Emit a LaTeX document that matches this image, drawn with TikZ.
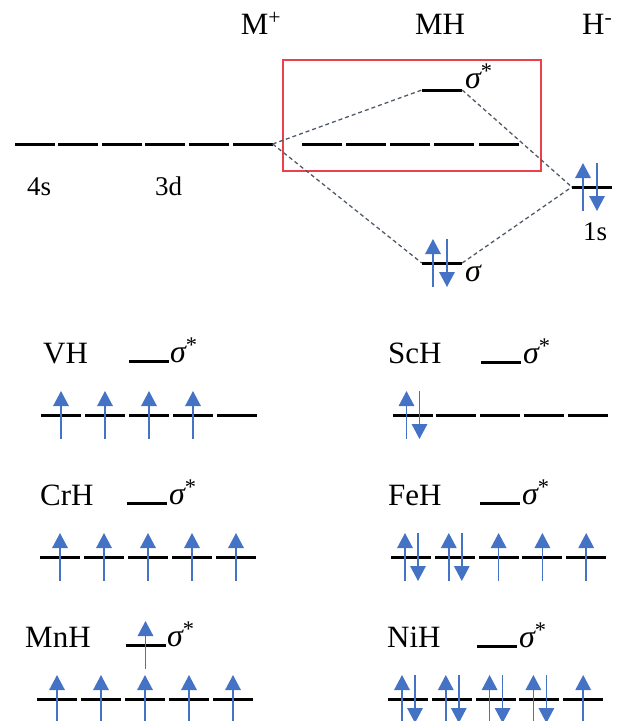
\documentclass[tikz,border=0pt]{standalone}
\usepackage{fontspec}
\setmainfont{Liberation Serif}
\usetikzlibrary{arrows.meta, calc, positioning}
\definecolor{SpinBlue}{RGB}{68,114,196}
\definecolor{BoxRed}{RGB}{235,64,75}
\definecolor{LinkGray}{RGB}{80,90,105}

\begin{document}
\begin{tikzpicture}[x=1pt, y=-1pt,
	lvl/.style={fill=black, inner sep=0pt, minimum width=40pt, minimum height=3pt},
	spin/.style={draw=SpinBlue, line width=1.5pt, -{Triangle[length=15pt, width=15.5pt]}},
	corr/.style={draw=LinkGray, line width=1.3pt, dash pattern=on 4pt off 3pt},
	mol/.style={font=\fontsize{31}{36}\selectfont, anchor=base west, inner sep=0pt},
	orb/.style={font=\fontsize{27}{30}\selectfont, anchor=base west, inner sep=0pt},
	sig/.style={font=\fontsize{32}{36}\selectfont\itshape, anchor=base west, inner sep=0pt}]
	\useasboundingbox (0,0) rectangle (618,721);
	% top diagram
	\node[mol, anchor=base] (mp) at (261,34) {M\textsuperscript{+}};
	\node[mol, anchor=base] (mh) at (440,34) {MH};
	\node[mol] (hm) at (582,34) {H\textsuperscript{-}};
	\draw[BoxRed, line width=2pt] (283,60) rectangle (541,171);
	\foreach \i in {0,...,5}
		\node[lvl] (m\i) at ({34.5+\i*43.6},144) {};
	\foreach \i in {0,...,4}
		\node[lvl] (d\i) at ({321.5+\i*44.3},144) {};
	\node[lvl] (ss) at (442,90) {};
	\node[lvl] (sb) at (442,263) {};
	\node[lvl] (hs) at (592,187) {};
	\node[sig] (ssl) at (465,88) {σ\textsuperscript{\upshape *}};
	\node[sig] (sbl) at (465,281) {σ};
	\node[orb] (l4s) at (27,195) {4s};
	\node[orb] (l3d) at (155,195) {3d};
	\node[orb] (l1s) at (583,240) {1s};
	\draw[corr] (m5.east) -- (ss.west);
	\draw[corr] (m5.east) -- (sb.west);
	\draw[corr] (ss.east) -- (hs.west);
	\draw[corr] (sb.east) -- (hs.west);
	\draw[spin] ($(sb)+(-9,24)$) -- ++(0,-48);
	\draw[spin] ($(sb)+(5,-24)$) -- ++(0,48);
	\draw[spin] ($(hs)+(-9,24)$) -- ++(0,-48);
	\draw[spin] ($(hs)+(5,-24)$) -- ++(0,48);
	% VH
	\node[mol] (vh) at (43,363) {VH};
	\node[lvl] (vhs) at (148.5,361) {};
	\node[sig] (vhl) at (170,362) {σ\textsuperscript{\upshape *}};
	\foreach \i in {0,...,4}
		\node[lvl] (v\i) at ({61+\i*44},415) {};
	\foreach \i in {0,...,3}
		\draw[spin] ($(v\i)+(0,24)$) -- ++(0,-48);
	% ScH
	\node[mol] (sch) at (388,363) {ScH};
	\node[lvl] (schs) at (500.5,362) {};
	\node[sig] (schl) at (523,363) {σ\textsuperscript{\upshape *}};
	\foreach \i in {0,...,4}
		\node[lvl] (s\i) at ({412.5+\i*43.8},415) {};
	\draw[spin] ($(s0)+(-6,24)$) -- ++(0,-48);
	\draw[spin] ($(s0)+(7,-24)$) -- ++(0,48);
	% CrH
	\node[mol] (crh) at (40,505) {CrH};
	\node[lvl] (crhs) at (147,503) {};
	\node[sig] (crhl) at (169,504) {σ\textsuperscript{\upshape *}};
	\foreach \i in {0,...,4} {
		\node[lvl] (c\i) at ({60+\i*44},557) {};
		\draw[spin] ($(c\i)+(0,24)$) -- ++(0,-48);
	}
	% FeH
	\node[mol] (feh) at (388,505) {FeH};
	\node[lvl] (fehs) at (500,503) {};
	\node[sig] (fehl) at (522,504) {σ\textsuperscript{\upshape *}};
	\foreach \i in {0,...,4}
		\node[lvl] (f\i) at ({411+\i*43.8},557) {};
	\foreach \i in {0,1} {
		\draw[spin] ($(f\i)+(-6,24)$) -- ++(0,-48);
		\draw[spin] ($(f\i)+(7,-24)$) -- ++(0,48);
	}
	\foreach \i in {2,3,4}
		\draw[spin] ($(f\i)+(0,24)$) -- ++(0,-48);
	% MnH
	\node[mol] (mnh) at (25,647) {MnH};
	\node[lvl] (mnhs) at (145.5,645) {};
	\node[sig] (mnhl) at (167,646) {σ\textsuperscript{\upshape *}};
	\draw[spin] ($(mnhs)+(0,24)$) -- ++(0,-48);
	\foreach \i in {0,...,4} {
		\node[lvl] (n\i) at ({57+\i*44},699) {};
		\draw[spin] ($(n\i)+(0,24)$) -- ++(0,-48);
	}
	% NiH
	\node[mol] (nih) at (387,647) {NiH};
	\node[lvl] (nihs) at (496.5,646) {};
	\node[sig] (nihl) at (519,647) {σ\textsuperscript{\upshape *}};
	\foreach \i in {0,...,4}
		\node[lvl] (i\i) at ({408+\i*43.8},699) {};
	\foreach \i in {0,...,3} {
		\draw[spin] ($(i\i)+(-6,24)$) -- ++(0,-48);
		\draw[spin] ($(i\i)+(7,-24)$) -- ++(0,48);
	}
	\draw[spin] ($(i4)+(0,24)$) -- ++(0,-48);
\end{tikzpicture}
\end{document}
